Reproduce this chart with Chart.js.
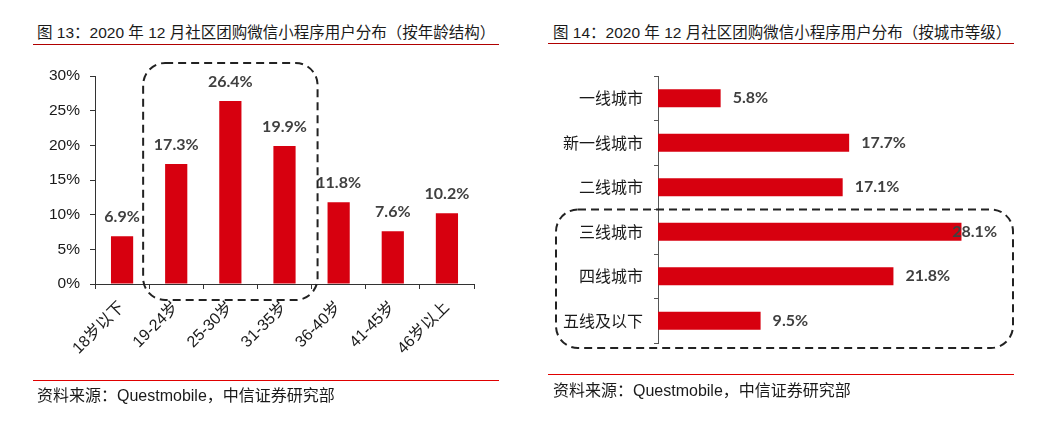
<!DOCTYPE html>
<html lang="zh-CN">
<head>
<meta charset="UTF-8">
<title>2020年12月社区团购微信小程序用户分布</title>
<script src="https://cdn.jsdelivr.net/npm/chart.js"></script>
<style>
    body { margin: 0; width: 1040px; height: 429px; background: #fff; position: relative; overflow: hidden;
           font-family: "Liberation Sans", "Noto Sans CJK SC", sans-serif; color: #1a1a1a; }
    .title { position: absolute; top: 23px; font-size: 15.5px; line-height: 20px; white-space: nowrap; }
    .source { position: absolute; font-size: 16px; line-height: 20px; white-space: nowrap; }
    .rule { position: absolute; height: 1px; }
    canvas { position: absolute; top: 0; }
</style>
</head>
<body>
<div class="title" style="left:37px">图 13：2020 年 12 月社区团购微信小程序用户分布（按年龄结构）</div>
<div class="rule" style="left:33px; width:466px; top:44px; background:#b00000"></div>
<canvas id="ageChart" width="520" height="429" style="left:0; width:520px; height:429px"></canvas>
<div class="rule" style="left:33px; width:466px; top:380px; background:#e00000"></div>
<div class="source" style="left:37px; top:386px">资料来源：Questmobile，中信证券研究部</div>

<div class="title" style="left:553px">图 14：2020 年 12 月社区团购微信小程序用户分布（按城市等级）</div>
<div class="rule" style="left:548px; width:466px; top:43px; background:#b00000"></div>
<canvas id="cityChart" width="510" height="429" style="left:530px; width:510px; height:429px"></canvas>
<div class="rule" style="left:548px; width:466px; top:374px; background:#e00000"></div>
<div class="source" style="left:553px; top:381px">资料来源：Questmobile，中信证券研究部</div>

<script>
    // data
    const ageLabels = ['18岁以下', '19-24岁', '25-30岁', '31-35岁', '36-40岁', '41-45岁', '46岁以上'];
    const ageShares = [6.9, 17.3, 26.4, 19.9, 11.8, 7.6, 10.2];
    const ageTicks = [0, 5, 10, 15, 20, 25, 30];

    const cityLabels = ['一线城市', '新一线城市', '二线城市', '三线城市', '四线城市', '五线及以下'];
    const cityShares = [5.8, 17.7, 17.1, 28.1, 21.8, 9.5];

    const RED = '#d7000f';
    const labelFont = 'bold 16px Lato, "Liberation Sans", sans-serif';

    // value labels above / beside the bars
    const valueLabels = {
        id: 'valueLabels',
        afterDatasetsDraw(chart, args, opts) {
            const ctx = chart.ctx;
            const values = chart.data.datasets[0].data;
            ctx.save();
            ctx.font = labelFont;
            ctx.fillStyle = '#404040';
            ctx.textBaseline = 'middle';
            chart.getDatasetMeta(0).data.forEach((bar, i) => {
                const text = values[i].toFixed(1) + '%';
                if (opts.horizontal) {
                    const w = ctx.measureText(text).width;
                    let x = bar.x + 12;
                    if (x + w > opts.maxRight) x = opts.maxRight - w; // keep inside the panel
                    ctx.textAlign = 'left';
                    ctx.fillText(text, x, bar.y);
                } else {
                    ctx.textAlign = 'center';
                    ctx.fillText(text, bar.x, bar.y - 19);
                }
            });
            ctx.restore();
        }
    };

    // dashed rounded box marking the main groups
    const dashedBox = {
        id: 'dashedBox',
        afterDraw(chart, args, opts) {
            if (!opts.box) return;
            const b = opts.box(chart);
            const ctx = chart.ctx;
            ctx.save();
            ctx.strokeStyle = '#222';
            ctx.lineWidth = 2;
            ctx.setLineDash([8, 5]);
            ctx.beginPath();
            ctx.roundRect(b.x1, b.y1, b.x2 - b.x1, b.y2 - b.y1, 22);
            ctx.stroke();
            ctx.restore();
        }
    };

    Chart.register(valueLabels, dashedBox);

    new Chart(document.getElementById('ageChart'), {
        type: 'bar',
        data: {
            labels: ageLabels,
            datasets: [{ data: ageShares, backgroundColor: RED, categoryPercentage: 1, barPercentage: 0.41 }]
        },
        options: {
            responsive: false,
            animation: false,
            layout: { padding: { top: 76, left: 0, right: 46, bottom: 0 } },
            plugins: {
                legend: { display: false },
                tooltip: { enabled: false },
                valueLabels: { horizontal: false },
                dashedBox: {
                    box: chart => {
                        const xs = chart.scales.x, area = chart.chartArea;
                        const cw = (area.right - area.left) / ageLabels.length;
                        return {
                            x1: xs.getPixelForValue(1) - cw / 2 - 6,
                            x2: xs.getPixelForValue(3) + cw / 2 + 6,
                            y1: area.top - 13,
                            y2: area.bottom + 16
                        };
                    }
                }
            },
            scales: {
                x: {
                    afterFit: s => { s.height = 145; },
                    border: { display: true, color: '#333', width: 1 },
                    grid: { offset: true, drawOnChartArea: false, drawTicks: true, tickLength: 5, color: '#333' },
                    ticks: { minRotation: 45, maxRotation: 45, padding: 9, color: '#1a1a1a',
                             font: { size: 16, family: '"Liberation Sans", "Noto Sans CJK SC", sans-serif' } }
                },
                y: {
                    min: ageTicks[0],
                    max: ageTicks[ageTicks.length - 1],
                    afterFit: s => { s.width = 95; },
                    afterBuildTicks: s => { s.ticks = ageTicks.map(v => ({ value: v })); },
                    border: { display: true, color: '#333', width: 1 },
                    grid: { drawOnChartArea: false, drawTicks: true, tickLength: 5, color: '#333' },
                    ticks: { padding: 10, color: '#1a1a1a', callback: v => v + '%',
                             font: { size: 15.5, family: '"Liberation Sans", sans-serif' } }
                }
            }
        }
    });

    new Chart(document.getElementById('cityChart'), {
        type: 'bar',
        data: {
            labels: cityLabels,
            datasets: [{ data: cityShares, backgroundColor: RED, categoryPercentage: 1, barPercentage: 0.4 }]
        },
        options: {
            indexAxis: 'y',
            responsive: false,
            animation: false,
            layout: { padding: { top: 76, left: 0, right: 58, bottom: 86 } },
            plugins: {
                legend: { display: false },
                tooltip: { enabled: false },
                valueLabels: { horizontal: true, maxRight: 467 },
                dashedBox: {
                    box: chart => {
                        const ys = chart.scales.y, area = chart.chartArea;
                        const ch = (area.bottom - area.top) / cityLabels.length;
                        return {
                            x1: area.left - 102,
                            x2: area.right + 31,
                            y1: ys.getPixelForValue(3) - ch / 2,
                            y2: area.bottom + 5
                        };
                    }
                }
            },
            scales: {
                x: { display: false, min: 0, max: 30 },
                y: {
                    afterFit: s => { s.width = 128; },
                    border: { display: true, color: '#555', width: 1 },
                    grid: { offset: true, drawOnChartArea: false, drawTicks: true, tickLength: 4, color: '#555' },
                    ticks: { padding: 11, color: '#1a1a1a',
                             font: { size: 16, family: '"Noto Sans CJK SC", sans-serif' } }
                }
            }
        }
    });
</script>
</body>
</html>
